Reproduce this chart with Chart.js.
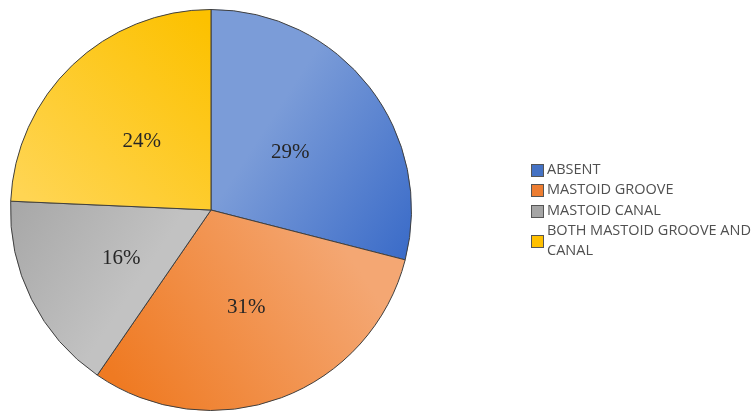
<!DOCTYPE html>
<html>
<head>
<meta charset="utf-8">
<script src="https://cdn.jsdelivr.net/npm/chart.js@4.4.1/dist/chart.umd.min.js"></script>
<style>
  html, body { margin: 0; padding: 0; background: #ffffff; }
  #wrap { width: 754px; height: 414px; position: relative; }
</style>
</head>
<body>
<div id="wrap"><canvas id="pieChart"></canvas></div>
<script>
"use strict";

// Data
var categories = ['ABSENT', 'MASTOID GROOVE', 'MASTOID CANAL', 'BOTH MASTOID GROOVE AND CANAL'];
var legendLines = [['ABSENT'], ['MASTOID GROOVE'], ['MASTOID CANAL'], ['BOTH MASTOID GROOVE AND', 'CANAL']];
// slice shares (printed labels are rounded)
var percentValues = [29.0, 30.6, 16.1, 24.3];

// Colours: light/dark ends and gradient direction as fractions of the chart area
var sliceColors = [
    { light: '#7b9cd8', dark: '#3a6bc8', from: [0.58, 0.38], to: [0.98, 0.64], legend: '#4472c4' },
    { light: '#f4a773', dark: '#ef7a22', from: [0.85, 0.62], to: [0.30, 0.98], legend: '#ed7d31' },
    { light: '#c2c2c2', dark: '#a8a8a8', from: [0.32, 0.68], to: [0.02, 0.48], legend: '#a5a5a5' },
    { light: '#ffd553', dark: '#fcc100', from: [0.05, 0.48], to: [0.48, 0.02], legend: '#ffc000' }
];

var makeGradient = function (context) {
    var chart = context.chart;
    var area = chart.chartArea;
    var c = sliceColors[context.dataIndex];
    if (!area) return c.legend;
    var w = area.right - area.left, h = area.bottom - area.top;
    var g = chart.ctx.createLinearGradient(
        area.left + c.from[0] * w, area.top + c.from[1] * h,
        area.left + c.to[0] * w, area.top + c.to[1] * h);
    g.addColorStop(0, c.light);
    g.addColorStop(1, c.dark);
    return g;
};

// Percent labels drawn at arc centre
var pieLabels = {
    id: 'pieLabels',
    afterDatasetsDraw: function (chart) {
        var ctx = chart.ctx;
        var meta = chart.getDatasetMeta(0);
        ctx.save();
        ctx.font = '21px "Liberation Serif", "Times New Roman", serif';
        ctx.fillStyle = '#262626';
        ctx.textAlign = 'center';
        ctx.textBaseline = 'middle';
        meta.data.forEach(function (arc, i) {
            var p = arc.tooltipPosition();
            ctx.fillText(Math.round(percentValues[i]) + '%', p.x, p.y + 4);
        });
        ctx.restore();
    }
};

// Legend drawn on the right
var sideLegend = {
    id: 'sideLegend',
    afterDraw: function (chart) {
        var ctx = chart.ctx;
        var x = 531, y = 170, lineH = 20.3, box = 12;
        ctx.save();
        ctx.font = '14.5px "Open Sans", sans-serif';
        ctx.textBaseline = 'middle';
        legendLines.forEach(function (lines, i) {
            var blockTop = y;
            var cy = blockTop + (lines.length - 1) * lineH / 2;
            ctx.fillStyle = sliceColors[i].legend;
            ctx.fillRect(x + 0.5, Math.round(cy - box / 2) + 0.5, box, box);
            ctx.strokeStyle = '#555555';
            ctx.lineWidth = 1;
            ctx.strokeRect(x + 0.5, Math.round(cy - box / 2) + 0.5, box, box);
            ctx.fillStyle = '#505050';
            lines.forEach(function (t, j) {
                ctx.fillText(t, x + 16, blockTop + j * lineH);
            });
            y += lines.length * lineH;
        });
        ctx.restore();
    }
};

new Chart(document.getElementById('pieChart'), {
    type: 'pie',
    data: {
        labels: categories,
        datasets: [{
            data: percentValues,
            backgroundColor: makeGradient,
            borderColor: '#3f3f3f',
            borderWidth: 1
        }]
    },
    options: {
        responsive: true,
        maintainAspectRatio: false,
        animation: false,
        layout: { padding: { left: 10, right: 342, top: 9, bottom: 3 } },
        plugins: {
            legend: { display: false },
            tooltip: { enabled: false }
        }
    },
    plugins: [pieLabels, sideLegend]
});
</script>
</body>
</html>
